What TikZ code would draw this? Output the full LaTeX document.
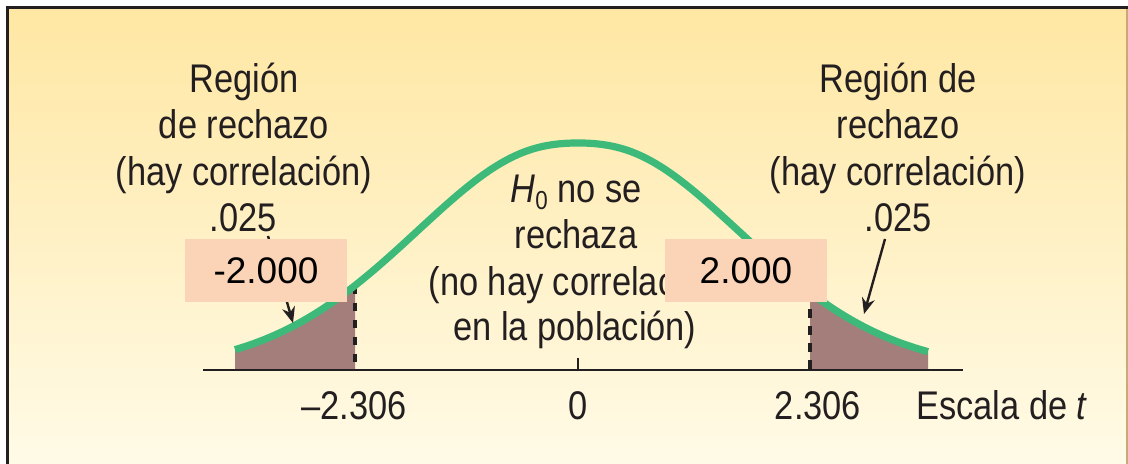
\documentclass[tikz,border=0pt]{standalone}
\usepackage{fontspec}
\setmainfont{Liberation Sans}[FakeStretch=0.86]
\newfontfamily\boxfont{Liberation Sans}
\usetikzlibrary{arrows.meta}
\definecolor{bgtop}{HTML}{FFE7A3}
\definecolor{bgbot}{HTML}{FFFBE8}
\definecolor{frameclr}{HTML}{231F20}
\definecolor{edgeclr}{HTML}{C9A97A}
\definecolor{curveclr}{HTML}{3DBA7A}
\definecolor{tailclr}{HTML}{A47E7B}
\definecolor{boxclr}{HTML}{FBD3B6}
\definecolor{ink}{HTML}{231F20}
\newcommand\lblfont{\fontsize{20}{23}\selectfont}
\tikzset{
  declare function={bellu(\t)=(\t-578)/100;
    bellh(\t)=227*exp(-0.21*bellu(\t)^2*(bellu(\t)^2+0.3)/(bellu(\t)^2+0.6));},
  lbl/.style={font=\lblfont, text=ink, anchor=base, inner sep=0pt},
  valbox/.style={fill=boxclr, minimum width=81pt, minimum height=31.5pt, inner sep=0pt,
    font=\boxfont\fontsize{18.5}{20}\selectfont, text=black},
  tailfill/.style={fill=tailclr},
  cutline/.style={draw=ink, line width=1.7pt, dash pattern=on 4.3pt off 4.2pt},
  bell/.style={draw=curveclr, line width=3.6pt},
  axisline/.style={draw=ink, line width=1.4pt},
  arr/.style={draw=ink, line width=1.2pt, -{Stealth[length=8pt,width=6.5pt]}},
}
\begin{document}
\begin{tikzpicture}[x=0.5pt,y=-0.5pt]
\useasboundingbox (0,0) rectangle (1128,463);
% background and frame
\shade[top color=bgtop, bottom color=bgbot] (8,8) rectangle (1128,470);
\draw[edgeclr, line width=0.6pt] (1127,8) -- (1127,470);
\draw[frameclr, line width=1.6pt] (7.5,470) -- (7.5,7.5) -- (1128,7.5);
% tails
\fill[tailfill] (235,370) -- plot[domain=235:355,samples=30] (\x,{370-bellh(\x)}) -- (355,370) -- cycle;
\fill[tailfill] (810,370) -- plot[domain=810:928,samples=30] (\x,{370-bellh(\x)}) -- (928,370) -- cycle;
% cut lines
\coordinate (lcut) at (355,370);
\coordinate (lcuttop) at (355,{370-bellh(355)});
\coordinate (rcut) at (810,370);
\coordinate (rcuttop) at (810,{370-bellh(810)});
\draw[cutline] (lcuttop) -- (lcut);
\draw[cutline] (rcuttop) -- (rcut);
% bell curve
\draw[bell] plot[domain=235:928,samples=140,smooth] (\x,{370-bellh(\x)});
% axis
\coordinate (axl) at (203,370);
\coordinate (axr) at (963,370);
\coordinate (zero) at (578,370);
\coordinate (zerotop) at (578,358);
\draw[axisline] (axl) -- (axr);
\draw[axisline] (zero) -- (zerotop);
% axis labels
\node[lbl] (tneg) at (354,419) {–2.306};
\node[lbl] (tzero) at (578,419) {0};
\node[lbl] (tpos) at (818,419) {2.306};
\node[lbl] (tscale) at (1002,419) {Escala de \textit{t}};
% left labels
\node[lbl] (l1) at (244,92) {Región};
\node[lbl] (l2) at (244,138) {de rechazo};
\node[lbl] (l3) at (244,185) {(hay correlación)};
\node[lbl] (l4) at (243,231) {.025};
% right labels
\node[lbl] (r1) at (898,92) {Región de};
\node[lbl] (r2) at (898,138) {rechazo};
\node[lbl] (r3) at (898,185) {(hay correlación)};
\node[lbl] (r4) at (898,231) {.025};
% center labels
\node[lbl] (c1) at (576,202) {\textit{H}\raisebox{-3.5pt}{\fontsize{13}{13}\selectfont 0} no se};
\node[lbl] (c2) at (576,248) {rechaza};
\node[lbl] (c3) at (575,295) {(no hay correlación};
\node[lbl] (c4) at (575,340) {en la población)};
% arrows
\coordinate (lstart) at (268,236);
\coordinate (ltip) at (293,323);
\coordinate (rstart) at (885,239);
\coordinate (rtip) at (864,314);
\draw[arr] (lstart) -- (ltip);
\draw[arr] (rstart) -- (rtip);
% value boxes
\node[valbox] (lbox) at (266,270.5) {-2.000};
\node[valbox] (rbox) at (746,270.5) {2.000};
\end{tikzpicture}
\end{document}
